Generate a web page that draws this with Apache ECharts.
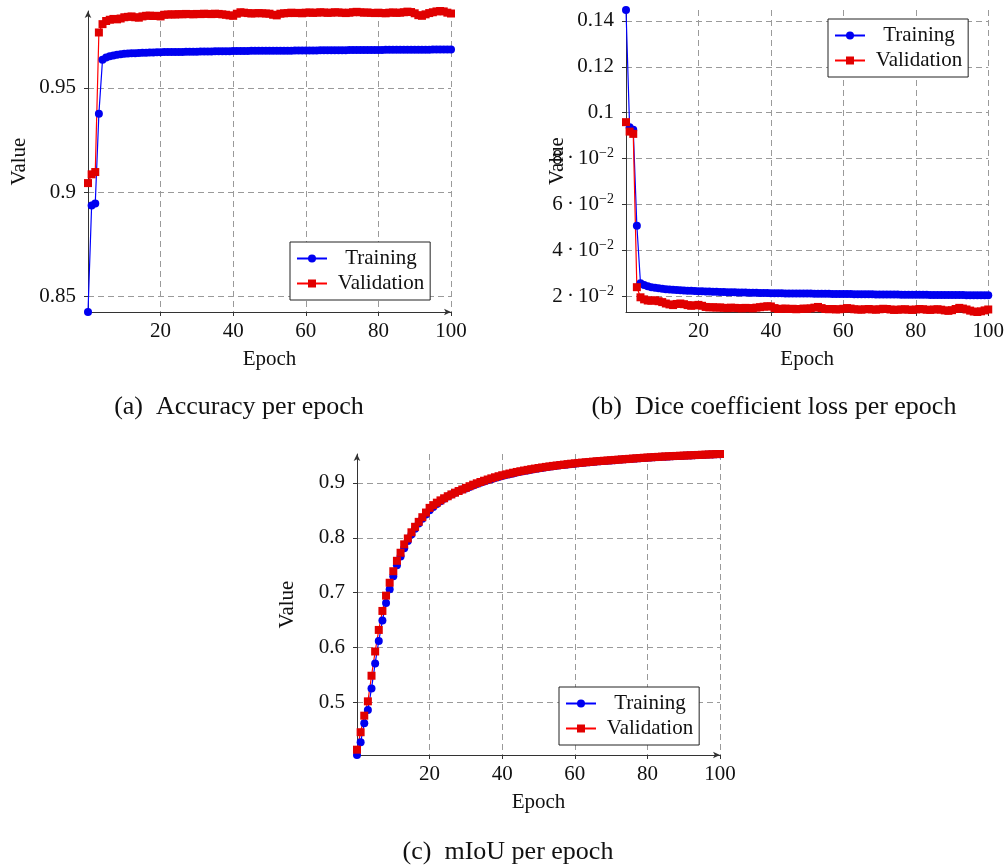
<!DOCTYPE html>
<html>
<head>
<meta charset="utf-8">
<script src="https://cdn.jsdelivr.net/npm/echarts@6/dist/echarts.min.js"></script>
<style>
  html, body { margin: 0; padding: 0; background: #fff; }
  #chart { width: 1007px; height: 865px; }
</style>
</head>
<body>
<div id="chart"></div>
<script>
// epochs 0..100 (x positions only)
const epochs = Array.from({ length: 101 }, (_, i) => i);

const seriesNames = ['Training', 'Validation'];
const captions = ['(a)\u2002Accuracy per epoch', '(b)\u2002Dice coefficient loss per epoch', '(c)\u2002mIoU per epoch'];

const xTicks = [20, 40, 60, 80, 100];
const accTicks = [0.85, 0.9, 0.95];
const lossTicks = [0.02, 0.04, 0.06, 0.08, 0.1, 0.12, 0.14];
const iouTicks = [0.5, 0.6, 0.7, 0.8, 0.9];

// (a) accuracy
const accTrain = [
  0.8425,0.8936,0.8945,0.9376,0.9634,0.9645,0.9651,0.9655,0.9658,0.9661,
  0.9663,0.9664,0.9665,0.9666,0.9667,0.9668,0.9668,0.9669,0.9669,0.9670,
  0.9670,0.9671,0.9671,0.9671,0.9672,0.9672,0.9672,0.9673,0.9673,0.9673,
  0.9673,0.9674,0.9674,0.9674,0.9674,0.9675,0.9675,0.9675,0.9675,0.9675,
  0.9676,0.9676,0.9676,0.9676,0.9676,0.9677,0.9677,0.9677,0.9677,0.9677,
  0.9677,0.9678,0.9678,0.9678,0.9678,0.9678,0.9678,0.9679,0.9679,0.9679,
  0.9679,0.9679,0.9679,0.9679,0.9680,0.9680,0.9680,0.9680,0.9680,0.9680,
  0.9680,0.9680,0.9681,0.9681,0.9681,0.9681,0.9681,0.9681,0.9681,0.9681,
  0.9681,0.9681,0.9682,0.9682,0.9682,0.9682,0.9682,0.9682,0.9682,0.9682,
  0.9682,0.9682,0.9682,0.9682,0.9682,0.9683,0.9683,0.9683,0.9683,0.9683,
  0.9683
];
const accVal = [
  0.9043,0.9085,0.9096,0.9765,0.9805,0.9820,0.9826,0.9830,0.9828,0.9832,
  0.9838,0.9840,0.9842,0.9838,0.9836,0.9842,0.9845,0.9846,0.9844,0.9845,
  0.9842,0.9850,0.9851,0.9852,0.9851,0.9853,0.9852,0.9854,0.9853,0.9852,
  0.9854,0.9853,0.9855,0.9854,0.9853,0.9855,0.9854,0.9852,0.9850,0.9847,
  0.9845,0.9855,0.9862,0.9860,0.9858,0.9856,0.9857,0.9858,0.9857,0.9856,
  0.9855,0.9850,0.9847,0.9855,0.9857,0.9858,0.9860,0.9858,0.9859,0.9857,
  0.9860,0.9861,0.9859,0.9860,0.9862,0.9861,0.9859,0.9860,0.9862,0.9861,
  0.9860,0.9858,0.9860,0.9862,0.9864,0.9862,0.9860,0.9861,0.9859,0.9858,
  0.9860,0.9858,0.9857,0.9860,0.9861,0.9859,0.9860,0.9862,0.9865,0.9863,
  0.9857,0.9848,0.9845,0.9852,0.9858,0.9862,0.9866,0.9868,0.9866,0.9860,
  0.9856
];

// (b) dice loss
const lossTrain = [
  0.1447,0.0937,0.0926,0.0508,0.0258,0.0250,0.0245,0.0241,0.0238,0.0236,
  0.0234,0.0232,0.0231,0.0230,0.0229,0.0228,0.0227,0.0226,0.0225,0.0224,
  0.0223,0.0223,0.0222,0.0222,0.0221,0.0221,0.0220,0.0220,0.0219,0.0219,
  0.0219,0.0218,0.0218,0.0218,0.0217,0.0217,0.0217,0.0216,0.0216,0.0216,
  0.0215,0.0215,0.0215,0.0215,0.0214,0.0214,0.0214,0.0214,0.0213,0.0213,
  0.0213,0.0213,0.0212,0.0212,0.0212,0.0212,0.0212,0.0211,0.0211,0.0211,
  0.0211,0.0211,0.0211,0.0210,0.0210,0.0210,0.0210,0.0210,0.0210,0.0209,
  0.0209,0.0209,0.0209,0.0209,0.0209,0.0209,0.0208,0.0208,0.0208,0.0208,
  0.0208,0.0208,0.0208,0.0208,0.0207,0.0207,0.0207,0.0207,0.0207,0.0207,
  0.0207,0.0207,0.0207,0.0207,0.0206,0.0206,0.0206,0.0206,0.0206,0.0206,
  0.0206
];
const lossVal = [
  0.0959,0.0918,0.0908,0.0241,0.0197,0.0188,0.0183,0.0182,0.0184,0.0180,
  0.0176,0.0170,0.0166,0.0163,0.0168,0.0170,0.0167,0.0163,0.0160,0.0162,
  0.0164,0.0160,0.0155,0.0153,0.0154,0.0152,0.0153,0.0151,0.0150,0.0152,
  0.0151,0.0150,0.0149,0.0151,0.0150,0.0149,0.0152,0.0154,0.0156,0.0158,
  0.0157,0.0150,0.0146,0.0147,0.0148,0.0146,0.0147,0.0145,0.0146,0.0148,
  0.0147,0.0149,0.0152,0.0155,0.0150,0.0146,0.0145,0.0146,0.0144,0.0145,
  0.0147,0.0150,0.0148,0.0145,0.0144,0.0143,0.0145,0.0146,0.0144,0.0143,
  0.0145,0.0147,0.0146,0.0144,0.0142,0.0143,0.0144,0.0145,0.0143,0.0142,
  0.0144,0.0146,0.0145,0.0143,0.0142,0.0144,0.0145,0.0143,0.0140,0.0138,
  0.0141,0.0146,0.0151,0.0148,0.0144,0.0139,0.0135,0.0133,0.0136,0.0140,
  0.0144
];

// (c) mIoU
const iouTrain = [
  0.4040,0.4273,0.4618,0.4860,0.5253,0.5709,0.6120,0.6490,0.6810,0.7060,
  0.7300,0.7500,0.7660,0.7810,0.7940,0.8060,0.8165,0.8260,0.8345,0.8425,
  0.8500,0.8560,0.8615,0.8665,0.8710,0.8750,0.8788,0.8822,0.8852,0.8880,
  0.8900,0.8927,0.8953,0.8978,0.9002,0.9025,0.9047,0.9068,0.9088,0.9107,
  0.9125,0.9142,0.9158,0.9173,0.9188,0.9202,0.9215,0.9228,0.9240,0.9252,
  0.9263,0.9274,0.9284,0.9294,0.9303,0.9312,0.9320,0.9328,0.9336,0.9344,
  0.9351,0.9358,0.9365,0.9371,0.9377,0.9383,0.9389,0.9395,0.9400,0.9405,
  0.9410,0.9415,0.9420,0.9425,0.9430,0.9435,0.9440,0.9445,0.9450,0.9455,
  0.9459,0.9463,0.9467,0.9471,0.9475,0.9479,0.9483,0.9486,0.9489,0.9492,
  0.9495,0.9498,0.9501,0.9504,0.9507,0.9510,0.9513,0.9516,0.9519,0.9522,
  0.9524
];
const iouVal = [
  0.4137,0.4455,0.4757,0.5018,0.5485,0.5927,0.6320,0.6666,0.6945,0.7180,
  0.7390,0.7580,0.7727,0.7880,0.7988,0.8100,0.8200,0.8290,0.8375,0.8460,
  0.8545,0.8595,0.8640,0.8682,0.8720,0.8757,0.8790,0.8822,0.8852,0.8880,
  0.8910,0.8940,0.8968,0.8993,0.9017,0.9040,0.9062,0.9083,0.9103,0.9122,
  0.9140,0.9156,0.9171,0.9186,0.9200,0.9213,0.9226,0.9238,0.9250,0.9261,
  0.9272,0.9282,0.9292,0.9301,0.9310,0.9318,0.9326,0.9334,0.9342,0.9350,
  0.9357,0.9364,0.9370,0.9376,0.9382,0.9388,0.9394,0.9399,0.9404,0.9409,
  0.9414,0.9419,0.9424,0.9429,0.9434,0.9439,0.9444,0.9449,0.9454,0.9459,
  0.9463,0.9467,0.9471,0.9475,0.9479,0.9483,0.9486,0.9489,0.9492,0.9495,
  0.9498,0.9501,0.9504,0.9507,0.9510,0.9513,0.9516,0.9519,0.9522,0.9525,
  0.9527
];

const FONT = '"Liberation Serif", "DejaVu Serif", serif';
const FS = 21;
const BLUE = '#0000ff', RED = '#ff0000';

function xAxisFor(i, arrow) {
  return {
    type: 'value', gridIndex: i, min: 0, max: 100,
    name: 'Epoch', nameLocation: 'middle', nameGap: 37, nameMoveOverlap: false,
    nameTextStyle: { fontFamily: FONT, fontSize: FS, color: '#111' },
    axisLine: { show: true, lineStyle: { color: '#333', width: 1 },
      symbol: arrow ? ['none', 'arrow'] : ['none', 'none'], symbolSize: [5, 7] },
    axisTick: { show: true, length: 4, customValues: xTicks, lineStyle: { color: '#333' } },
    axisLabel: { customValues: xTicks, margin: 9, fontFamily: FONT, fontSize: FS, color: '#111' },
    splitLine: { show: true, lineStyle: { color: '#9a9a9a', type: [6, 4], width: 1 } }
  };
}

function yAxisFor(i, ticks, fmt, arrow, gap) {
  return {
    type: 'value', gridIndex: i, min: 'dataMin', max: 'dataMax',
    name: 'Value', nameLocation: 'middle', nameGap: gap, nameRotate: 90, nameMoveOverlap: false,
    nameTextStyle: { fontFamily: FONT, fontSize: FS, color: '#111' },
    axisLine: { show: true, lineStyle: { color: '#333', width: 1 },
      symbol: arrow ? ['none', 'arrow'] : ['none', 'none'], symbolSize: [5, 7] },
    axisTick: { show: true, length: 4, customValues: ticks, lineStyle: { color: '#333' } },
    axisLabel: {
      customValues: ticks, margin: 12, fontFamily: FONT, fontSize: FS, color: '#111',
      formatter: fmt,
      rich: { sup: { fontFamily: FONT, fontSize: 14, color: '#111', padding: [0, 0, 11, 0] } }
    },
    splitLine: { show: true, lineStyle: { color: '#9a9a9a', type: [6, 4], width: 1 } }
  };
}

function lineSeries(name, i, values, isVal) {
  return {
    name: name, type: 'line', xAxisIndex: i, yAxisIndex: i,
    data: epochs.map((e, k) => [e, values[k]]),
    symbol: isVal ? 'rect' : 'circle', symbolSize: 8, showSymbol: true,
    clip: false, animation: false,
    lineStyle: { color: isVal ? RED : BLUE, width: 1.2 },
    itemStyle: { color: isVal ? '#e00000' : '#0000f0' },
    emphasis: { disabled: true }
  };
}

function legendAt(left, top) {
  return {
    orient: 'vertical', left: left, top: top, data: seriesNames,
    padding: [6, 6, 6, 6], itemGap: 4, itemWidth: 30, itemHeight: 10,
    borderColor: '#222', borderWidth: 1, borderRadius: 0, backgroundColor: '#fff',
    selectedMode: false,
    formatter: n => '{c|' + n + '}',
    textStyle: { fontFamily: FONT, fontSize: FS, color: '#111',
      rich: { c: { width: 98, align: 'center', fontFamily: FONT, fontSize: FS, color: '#111' } } }
  };
}

const plainFmt = v => String(v);
const lossFmt = v => v >= 0.09 ? String(v) : Math.round(v * 100) + '\u2009·\u200910{sup|\u22122}';

const option = {
  backgroundColor: '#fff',
  animation: false,
  grid: [
    { left: 88, top: 11, width: 363, height: 301 },
    { left: 626, top: 10, width: 363, height: 302 },
    { left: 357, top: 454, width: 363, height: 301 }
  ],
  xAxis: [xAxisFor(0, true), xAxisFor(1, false), xAxisFor(2, true)],
  yAxis: [
    yAxisFor(0, accTicks, plainFmt, true, 58),
    yAxisFor(1, lossTicks, lossFmt, false, 58),
    yAxisFor(2, iouTicks, plainFmt, true, 59)
  ],
  legend: [legendAt(290, 242), legendAt(828, 19), legendAt(559, 687)],
  series: [
    lineSeries('Training', 0, accTrain, false),
    lineSeries('Validation', 0, accVal, true),
    lineSeries('Training', 1, lossTrain, false),
    lineSeries('Validation', 1, lossVal, true),
    lineSeries('Training', 2, iouTrain, false),
    lineSeries('Validation', 2, iouVal, true)
  ],
  graphic: [
    { type: 'text', x: 239, y: 407, style: { text: captions[0], fontFamily: FONT, fontSize: 26, fill: '#111', align: 'center', verticalAlign: 'middle' } },
    { type: 'text', x: 774, y: 407, style: { text: captions[1], fontFamily: FONT, fontSize: 26, fill: '#111', align: 'center', verticalAlign: 'middle' } },
    { type: 'text', x: 508, y: 852, style: { text: captions[2], fontFamily: FONT, fontSize: 26, fill: '#111', align: 'center', verticalAlign: 'middle' } }
  ]
};

const myChart = echarts.init(document.getElementById('chart'));
myChart.setOption(option);
</script>
</body>
</html>
